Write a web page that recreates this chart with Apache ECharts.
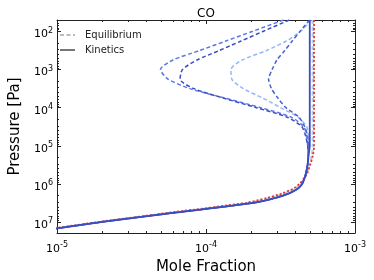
<!DOCTYPE html>
<html><head><meta charset="utf-8">
<script src="https://cdn.jsdelivr.net/npm/echarts@6/dist/echarts.min.js"></script>
<style>html,body{margin:0;padding:0;background:#fff}#c{width:374px;height:280px}</style>
</head><body><div id="c"></div><script>
// pressure levels [Pa]
const pressurePa = [50,100,178,316,562,1000,1778,3162,5623,1e4,1.778e4,3.162e4,5.623e4,1e5,1.778e5,3.162e5,5.623e5,7.499e5,1e6,1.334e6,1.778e6,2.371e6,3.162e6,5.623e6,1e7,2e7];
// CO mole fraction, kinetics (solid)
const kinetics = [4.97e-4,4.97e-4,4.97e-4,4.97e-4,4.97e-4,4.97e-4,4.97e-4,4.97e-4,4.97e-4,4.97e-4,4.97e-4,4.97e-4,4.97e-4,4.97e-4,4.88e-4,4.81e-4,4.67e-4,4.56e-4,4.43e-4,4.14e-4,3.62e-4,2.89e-4,2.08e-4,6.39e-5,2.02e-5,5.93e-6];
// CO mole fraction, equilibrium (dashed), several profiles
const eqA = [3.31e-4,2.04e-4,1.36e-4,9.07e-5,6.00e-5,4.95e-5,5.55e-5,7.80e-5,1.34e-4,2.33e-4,3.73e-4,4.53e-4,4.74e-4,4.81e-4,4.86e-4,4.80e-4,4.66e-4,4.55e-4,4.42e-4,4.13e-4,3.60e-4,2.88e-4,2.07e-4,6.35e-5,2.00e-5,5.90e-6];
const eqB = [3.62e-4,2.41e-4,1.72e-4,1.23e-4,8.70e-5,6.95e-5,6.70e-5,8.30e-5,1.31e-4,2.18e-4,3.51e-4,4.40e-4,4.67e-4,4.81e-4,4.86e-4,4.80e-4,4.66e-4,4.55e-4,4.42e-4,4.13e-4,3.60e-4,2.88e-4,2.07e-4,6.35e-5,2.00e-5,5.90e-6];
const eqC = [5.10e-4,4.30e-4,3.46e-4,2.55e-4,1.75e-4,1.47e-4,1.49e-4,1.78e-4,2.41e-4,3.17e-4,4.14e-4,4.74e-4,4.88e-4,4.90e-4,4.86e-4,4.80e-4,4.66e-4,4.55e-4,4.42e-4,4.13e-4,3.60e-4,2.88e-4,2.07e-4,6.35e-5,2.00e-5,5.90e-6];
const eqD = [4.95e-4,4.27e-4,3.79e-4,3.38e-4,2.99e-4,2.78e-4,2.63e-4,2.75e-4,3.04e-4,3.44e-4,4.21e-4,4.60e-4,4.81e-4,4.88e-4,4.86e-4,4.80e-4,4.66e-4,4.55e-4,4.42e-4,4.13e-4,3.60e-4,2.88e-4,2.07e-4,6.35e-5,2.00e-5,5.90e-6];
const eqE = [5.18e-4,5.18e-4,5.18e-4,5.18e-4,5.18e-4,5.18e-4,5.18e-4,5.18e-4,5.18e-4,5.18e-4,5.18e-4,5.18e-4,5.18e-4,5.18e-4,5.10e-4,4.95e-4,4.72e-4,4.55e-4,4.36e-4,4.00e-4,3.45e-4,2.72e-4,1.95e-4,6.10e-5,1.95e-5,5.80e-6];
const eqF = [5.26e-4,5.26e-4,5.26e-4,5.26e-4,5.26e-4,5.26e-4,5.26e-4,5.26e-4,5.26e-4,5.26e-4,5.26e-4,5.26e-4,5.26e-4,5.26e-4,5.18e-4,4.98e-4,4.74e-4,4.52e-4,4.30e-4,3.92e-4,3.35e-4,2.62e-4,1.88e-4,6.00e-5,1.92e-5,5.70e-6];
const eqG = [5.31e-4,5.31e-4,5.31e-4,5.31e-4,5.31e-4,5.31e-4,5.31e-4,5.31e-4,5.31e-4,5.31e-4,5.31e-4,5.31e-4,5.31e-4,5.31e-4,5.22e-4,5.00e-4,4.74e-4,4.50e-4,4.25e-4,3.85e-4,3.25e-4,2.55e-4,1.85e-4,5.90e-5,1.90e-5,5.60e-6];
// tick label exponents
const xTickExps = [-5,-4,-3];
const yTickExps = [2,3,4,5,6,7];
const legendNames = ['Equilibrium','Kinetics'];

const L = Math.log10;
const pts = arr => arr.map((v,i)=>[L(v), L(pressurePa[i])]);
const FONT = 'DejaVu Sans';
const AX = '#222';
const X_MIN=-5, X_MAX=-3, Y_MIN=L(50), Y_MAX=7.29;
function minors(lo, hi){const r=[];for(let n=Math.floor(lo)-1;n<=Math.ceil(hi);n++){for(let k=2;k<=9;k++){const v=n+L(k);if(v>lo&&v<hi)r.push(v);}}return r;}
const rich = {b:{fontFamily:FONT,fontSize:11,color:'#000'}, s:{fontFamily:FONT,fontSize:8,color:'#000',padding:[0,0,8,0]}};
const fmt = v => '{b|10}{s|' + (Math.round(v)<0?'-':'') + Math.abs(Math.round(v)) + '}';

function xAx(pos, major, label){
  return {type:'value', position:pos, min:X_MIN, max:X_MAX, interval:1,
    axisLine:{show:major, onZero:false, lineStyle:{color:AX,width:1}},
    axisTick:{show:true, inside:true, length:major?4:2, customValues: major?xTickExps:minors(X_MIN,X_MAX), lineStyle:{color:AX,width:1}},
    axisLabel:{show:label, customValues:xTickExps, formatter:fmt, rich:rich, margin:8},
    splitLine:{show:false},
    name: label?'Mole Fraction':'', nameLocation:'middle', nameGap:27,
    nameTextStyle:{fontFamily:FONT,fontSize:15,color:'#000'}};
}
function yAx(pos, major, label){
  return {type:'value', position:pos, inverse:true, min:Y_MIN, max:Y_MAX,
    axisLine:{show:major, onZero:false, lineStyle:{color:AX,width:1}},
    axisTick:{show:true, inside:true, length:major?4:2, customValues: major?yTickExps:minors(Y_MIN,Y_MAX), lineStyle:{color:AX,width:1}},
    axisLabel:{show:label, customValues:yTickExps, formatter:fmt, rich:rich, margin:4, padding:[6,0,0,0]},
    splitLine:{show:false},
    name: label?'Pressure [Pa]':'', nameLocation:'middle', nameGap:34, nameRotate:90,
    nameTextStyle:{fontFamily:FONT,fontSize:15,color:'#000'}};
}
function eq(name, data, color, dash, w){
  return {type:'line', name:name, data:pts(data), symbol:'none', smooth:0.25, clip:true,
    lineStyle:{color:color, width:w||1.5, type:dash||[4,2.5]}, itemStyle:{color:color}, silent:true, z:2};
}
const chart = echarts.init(document.getElementById('c'), null, {renderer:'canvas'});
chart.setOption({
  animation:false,
  backgroundColor:'#fff',
  title:{text:'CO', left:201, textAlign:'center', top:3, textStyle:{fontFamily:FONT,fontSize:12,fontWeight:'normal',color:'#000'}},
  grid:{left:47, right:19, top:20, bottom:40, containLabel:false},
  legend:{data:legendNames, orient:'vertical', left:54, top:25, itemWidth:15, itemHeight:10, itemGap:5,
    itemStyle:{opacity:0},
    textStyle:{fontFamily:FONT,fontSize:10,color:'#222',padding:[0,0,0,5]}},
  xAxis:[xAx('bottom',true,true), xAx('bottom',false,false), xAx('top',true,false), xAx('top',false,false)],
  yAxis:[yAx('left',true,true), yAx('left',false,false), yAx('right',true,false), yAx('right',false,false)],
  series:[
    {type:'line', name:'Equilibrium', data:[], symbol:'none', lineStyle:{color:'#bbbbbb',width:1.5,type:[4,2.5]}, itemStyle:{color:'#bbbbbb'}},
    {type:'line', name:'Kinetics', data:[], symbol:'none', lineStyle:{color:'#777777',width:1.5}, itemStyle:{color:'#777777'}},
    eq('eqF', eqF, '#f3b8a2'),
    eq('eqE', eqE, '#b5cdf6'),
    eq('eqG', eqG, '#d9392b', [2,2], 1.8),
    eq('eqC', eqC, '#94b6fb'),
    eq('eqD', eqD, '#4a62d0'),
    eq('eqA', eqA, '#5a78e4'),
    eq('eqB', eqB, '#3b4cc0'),
    {type:'line', name:'kin', data:pts(kinetics), symbol:'none', smooth:0.25, clip:true, silent:true, z:3,
      lineStyle:{color:'#3b4cc0', width:1.8}, itemStyle:{color:'#3b4cc0'}}
  ]
});
</script></body></html>
